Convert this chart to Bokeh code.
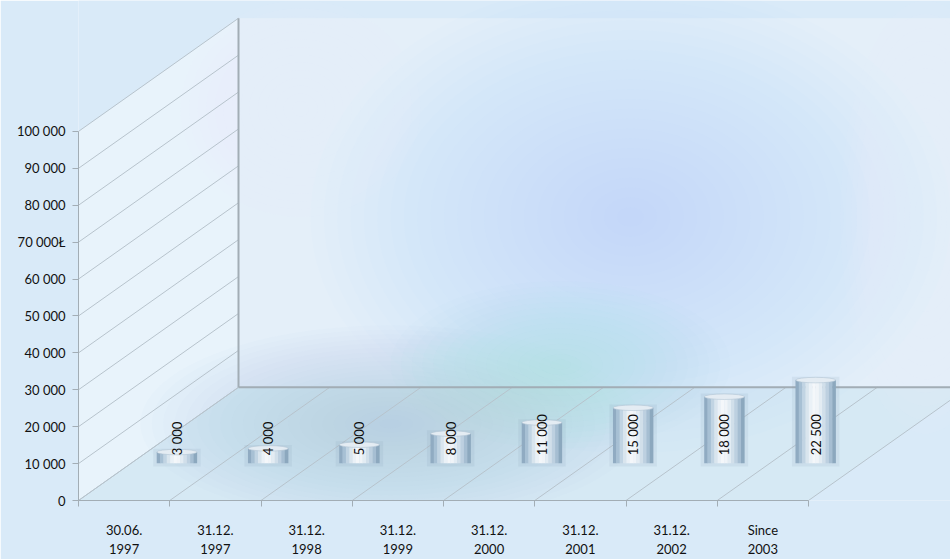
import math
from bokeh.plotting import figure
from bokeh.models import Range1d, FixedTicker
from bokeh.embed import file_html
from bokeh.resources import INLINE
from bokeh.core.properties import value

# ---------------- data ----------------
categories = ["30.06.\n1997", "31.12.\n1997", "31.12.\n1998", "31.12.\n1999",
              "31.12.\n2000", "31.12.\n2001", "31.12.\n2002", "Since\n2003"]
values = [3000, 4000, 5000, 8000, 11000, 15000, 18000, 22500]
value_labels = ["3 000", "4 000", "5 000", "8 000", "11 000", "15 000", "18 000", "22 500"]
y_ticks = [0, 10000, 20000, 30000, 40000, 50000, 60000, 70000, 80000, 90000, 100000]
y_tick_labels = ["0", "10 000", "20 000", "30 000", "40 000", "50 000",
                 "60 000", "70 000Ł", "80 000", "90 000", "100 000"]

# ---------------- geometry / style ----------------
W, H = 950, 559
LEFT, BOTTOM = 78, 51
PX_CAT = 91.25            # pixels per category
PX_UNIT = 0.00375         # pixels per value unit
FRAME_W = W - LEFT
FRAME_H = H - BOTTOM
X_END = FRAME_W / PX_CAT
Y_END = FRAME_H / PX_UNIT
DX = 160 / PX_CAT         # depth offset (x, data units)
DY = 115 / PX_UNIT        # depth offset (y, data units)
DEPTH = 0.33              # bars' depth fraction
BAR_W = 0.44
N = len(values)
Y_MAX = y_ticks[-1]

BG = "#d9eaf8"
GRID = "#b7c3cc"
EDGE = "#a2adb5"
FONT = "Lato"


def px_x(px):
    return (px - LEFT) / PX_CAT


def px_y(py):
    return (FRAME_H - py) / PX_UNIT


p = figure(width=W, height=H, output_backend="svg", toolbar_location=None,
           x_range=Range1d(0, X_END), y_range=Range1d(0, Y_END),
           min_border_left=LEFT, min_border_bottom=BOTTOM,
           min_border_top=0, min_border_right=0)
p.outline_line_color = None
p.background_fill_color = BG
p.border_fill_color = BG
p.xgrid.visible = False
p.ygrid.visible = False

# ---------------- walls ----------------
p.quad(left=[DX], right=[X_END + 1], bottom=[DY], top=[Y_MAX + DY],
       fill_color="#e4eff9", line_color=None)
p.patch(x=[0, DX, DX, 0], y=[0, DY, Y_MAX + DY, Y_MAX],
        fill_color="#e8f3fb", line_color=None)
p.patch(x=[0, N, N + DX, X_END + 1, X_END + 1, DX], y=[0, 0, DY, DY, DY, DY],
        fill_color="#d6e9f4", line_color=None)


# soft blobs (blurred lighting)
def blob(cx, cy, wpx, hpx, color, steps=22, alpha=0.04):
    for s in range(steps):
        f = 1 - s / steps
        p.ellipse(x=[px_x(cx)], y=[px_y(cy)], width=[wpx * f / PX_CAT],
                  height=[hpx * f / PX_UNIT], fill_color=color,
                  fill_alpha=alpha, line_color=None)


blob(630, 220, 640, 480, "#a4d4f2", steps=24, alpha=0.022)
blob(390, 430, 500, 200, "#9ec8dc", alpha=0.035)
blob(560, 370, 340, 170, "#a6d2ea", steps=16, alpha=0.03)
blob(925, 220, 170, 440, "#eef5fb", steps=16, alpha=0.06)
blob(300, 110, 240, 220, "#eef6fc", steps=14, alpha=0.06)

# ---------------- grid lines (depth lines) ----------------
p.segment(x0=[0] * len(y_ticks), y0=y_ticks,
          x1=[DX] * len(y_ticks), y1=[v + DY for v in y_ticks],
          line_color=GRID, line_width=1)
floor_ticks = list(range(N + 1))
p.segment(x0=floor_ticks, y0=[0] * len(floor_ticks),
          x1=[t + DX for t in floor_ticks], y1=[DY] * len(floor_ticks),
          line_color=GRID, line_width=1)
p.segment(x0=[DX, DX], y0=[DY, DY], x1=[DX, X_END + 1], y1=[Y_MAX + DY, DY],
          line_color=EDGE, line_width=2)

# ---------------- cylinders ----------------
shades = ["#90abc2", "#a7c0d4", "#c1d4e3", "#d9e5ee", "#eaf1f7", "#f4f7fa",
          "#f0f4f8", "#e3ecf3", "#d1dfea", "#bdd0e0", "#a6bed2", "#8ca8be"]
K = len(shades)
base = DEPTH * DY
centers = [i + 0.5 + DEPTH * DX for i in range(N)]

p.vbar(x=centers, width=BAR_W + 0.08, bottom=base - 900,
       top=[base + v + 900 for v in values], fill_color="#7d96aa",
       fill_alpha=0.12, line_color=None)

sw = BAR_W / K
for k, col in enumerate(shades):
    xs = [c - BAR_W / 2 + (k + 0.5) * sw for c in centers]
    p.vbar(x=xs, width=sw * 1.08, bottom=base, top=[base + v for v in values],
           fill_color=col, line_color=None)

p.ellipse(x=centers, y=[base + v for v in values], width=BAR_W,
          height=1500, fill_color="#e4ecf3", line_color="#b4c6d5",
          line_width=0.6)

p.text(x=centers, y=[base + 2150] * N, text=value_labels, angle=math.pi / 2,
       text_align="left", text_baseline="middle",
       text_font=value(FONT), text_font_size="13px", text_color="#0d0d0d")

# ---------------- axes ----------------
ya = p.yaxis[0]
ya.ticker = FixedTicker(ticks=y_ticks)
ya.major_label_overrides = {t: l for t, l in zip(y_ticks, y_tick_labels)}
ya.bounds = (0, Y_MAX)
ya.minor_tick_line_color = None
ya.major_tick_out = 6
ya.major_tick_in = 0
ya.major_tick_line_color = EDGE
ya.axis_line_color = EDGE
ya.major_label_text_font = FONT
ya.major_label_text_font_size = "13px"
ya.major_label_text_color = "#111111"
ya.major_label_standoff = 7

xa = p.xaxis[0]
xa.ticker = FixedTicker(ticks=[i + 0.5 for i in range(N)], minor_ticks=floor_ticks)
xa.major_label_overrides = {i + 0.5: c for i, c in enumerate(categories)}
xa.bounds = (0, N)
xa.major_tick_out = 0
xa.major_tick_in = 0
xa.minor_tick_out = 6
xa.minor_tick_in = 0
xa.minor_tick_line_color = EDGE
xa.axis_line_color = EDGE
xa.major_label_text_font = FONT
xa.major_label_text_font_size = "13px"
xa.major_label_text_color = "#111111"
xa.major_label_standoff = 15

open("out.html", "w").write(file_html(p, INLINE))
